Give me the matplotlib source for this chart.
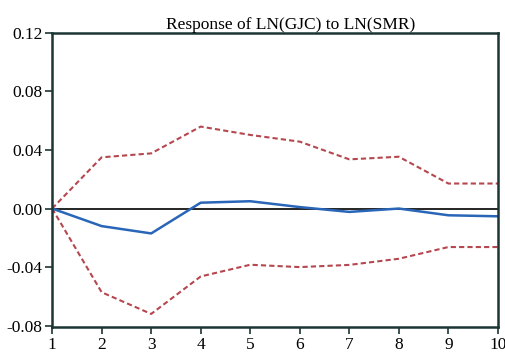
import matplotlib
matplotlib.use("Agg")
import matplotlib.pyplot as plt

# periods and impulse response with +/- 2 S.E. bands
periods = [1, 2, 3, 4, 5, 6, 7, 8, 9, 10]
response = [0.0, -0.012, -0.017, 0.004, 0.005, 0.001, -0.0023, 0.0, -0.0046, -0.0053]
upper = [0.0, 0.035, 0.0377, 0.056, 0.0503, 0.0457, 0.0336, 0.0354, 0.0171, 0.0171]
lower = [0.0, -0.0572, -0.072, -0.0464, -0.0384, -0.040, -0.0385, -0.0343, -0.0263, -0.0263]
yticks = [-0.08, -0.04, 0.00, 0.04, 0.08, 0.12]

plt.rcParams['font.family'] = ['Liberation Serif', 'DejaVu Serif']

fig = plt.figure(figsize=(5.06, 3.54), dpi=100)
ax = fig.add_axes([0.103, 0.076, 0.881, 0.831])

ax.axhline(0, color='black', linewidth=1.2, zorder=1)
ax.plot(periods, upper, color='#b5474f', linestyle=(0, (2.5, 1.5)), linewidth=1.5)
ax.plot(periods, lower, color='#b5474f', linestyle=(0, (2.5, 1.5)), linewidth=1.5)
ax.plot(periods, response, color='#2a66b8', linewidth=1.8)

ax.set_xlim(1, 10)
ax.set_ylim(-0.081, 0.12)
ax.set_xticks(periods)
ax.set_yticks(yticks)
ax.set_yticklabels([f"{v:.2f}" for v in yticks])
ax.tick_params(direction='out', length=5, width=1.2, labelsize=12.5, color='#1c3535', pad=2)

for sp in ax.spines.values():
    sp.set_color('#1c3535')
    sp.set_linewidth(1.8)

ax.set_title('Response of LN(GJC) to LN(SMR)', fontsize=12.5, pad=3, x=0.534)

fig.savefig('out.png', dpi=100)
